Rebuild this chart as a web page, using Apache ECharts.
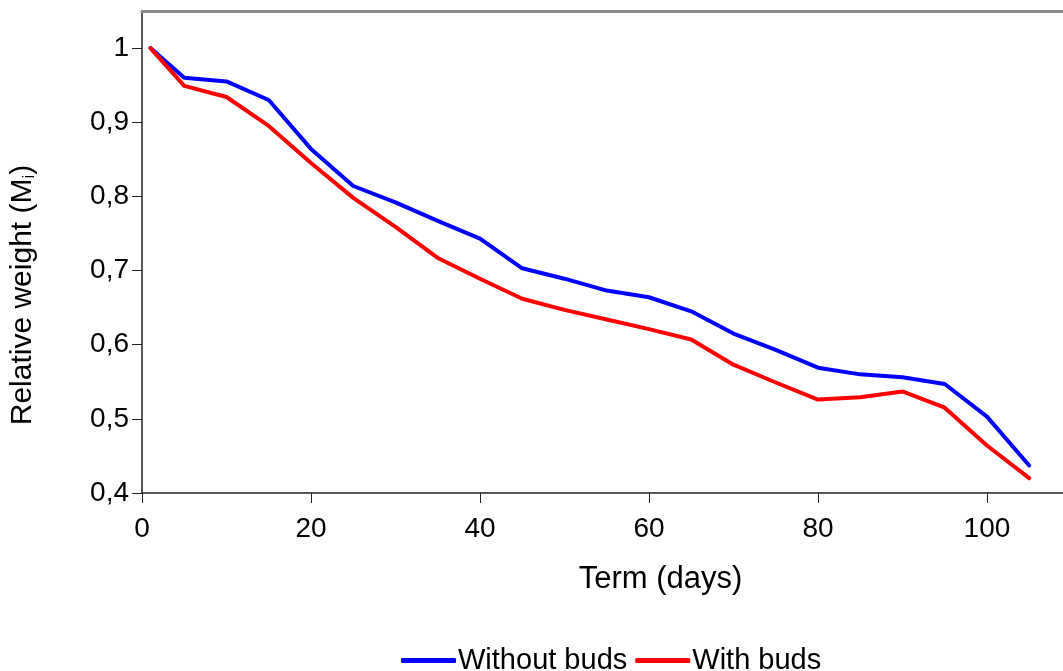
<!DOCTYPE html>
<html>
<head>
<meta charset="utf-8">
<script src="https://cdn.jsdelivr.net/npm/echarts@6/dist/echarts.min.js"></script>
<style>
html,body{margin:0;padding:0;background:#fff;}
#chart{width:1063px;height:671px;}
</style>
</head>
<body>
<div id="chart"></div>
<script>
const days = [1, 5, 10, 15, 20, 25, 30, 35, 40, 45, 50, 55, 60, 65, 70, 75, 80, 85, 90, 95, 100, 105];
const withoutBuds = [1.0, 0.960, 0.955, 0.930, 0.864, 0.814, 0.792, 0.767, 0.743, 0.703, 0.689, 0.673, 0.664, 0.645, 0.615, 0.593, 0.569, 0.560, 0.556, 0.547, 0.503, 0.437];
const withBuds = [1.0, 0.949, 0.934, 0.895, 0.845, 0.798, 0.759, 0.717, 0.689, 0.662, 0.647, 0.634, 0.621, 0.607, 0.573, 0.549, 0.526, 0.529, 0.537, 0.515, 0.464, 0.420];
const seriesNames = ['Without buds', 'With buds'];
const xTitle = 'Term (days)';

const font = 'Liberation Sans, Arial, sans-serif';
const chart = echarts.init(document.getElementById('chart'));
const pair = (xs, ys) => xs.map((x, i) => [x, ys[i]]);

chart.setOption({
  animation: false,
  textStyle: { fontFamily: font },
  grid: { left: 141, right: 0, top: 11, bottom: 178, containLabel: false },
  legend: {
    left: 396, top: 641,
    itemWidth: 55, itemHeight: 5, itemGap: 8,
    icon: 'roundRect',
    textStyle: { fontFamily: font, fontSize: 29, color: '#000', padding: [0, 0, 0, -3] },
    data: seriesNames
  },
  xAxis: [{
    type: 'value', min: 0, max: 109, interval: 20,
    name: xTitle, nameLocation: 'middle', nameGap: 71,
    nameTextStyle: { fontFamily: font, fontSize: 31, color: '#000', padding: [0, 0, 0, 116] },
    axisLine: { show: true, onZero: false, lineStyle: { color: '#222', width: 1.5 } },
    axisTick: { show: true, length: 10, lineStyle: { color: '#222', width: 1 } },
    axisLabel: { fontFamily: font, fontSize: 28, color: '#000', margin: 22, showMaxLabel: false },
    splitLine: { show: false }
  }, {
    type: 'value', min: 0, max: 109, position: 'top',
    axisLine: { show: true, lineStyle: { color: '#8a8a8a', width: 3 } },
    axisTick: { show: false }, axisLabel: { show: false }, splitLine: { show: false }
  }],
  yAxis: {
    type: 'value', min: 0.4, max: 1.05, interval: 0.1,
    name: '{a|Relative weight (M}{s|i}{a|)}', nameLocation: 'middle', nameGap: 104, nameRotate: 90,
    nameTextStyle: {
      padding: [0, 86, 0, 0],
      rich: {
        a: { fontFamily: font, fontSize: 30, color: '#000' },
        s: { fontFamily: font, fontSize: 17, color: '#000', verticalAlign: 'bottom', padding: [12, 0, 0, 0] }
      }
    },
    axisLine: { show: true, lineStyle: { color: '#222', width: 1.5 } },
    axisTick: { show: true, length: 10, lineStyle: { color: '#222', width: 1 } },
    axisLabel: {
      fontFamily: font, fontSize: 28, color: '#000', margin: 13, showMaxLabel: false,
      formatter: v => { const r = Math.round(v * 10) / 10; return r === 1 ? '1' : r.toFixed(1).replace('.', ','); }
    },
    splitLine: { show: false }
  },
  series: [{
    name: seriesNames[0], type: 'line', data: pair(days, withoutBuds),
    symbol: 'none', color: '#0000ff',
    lineStyle: { color: '#0000ff', width: 4, cap: 'round', join: 'round' }
  }, {
    name: seriesNames[1], type: 'line', data: pair(days, withBuds),
    symbol: 'none', color: '#ff0000',
    lineStyle: { color: '#ff0000', width: 4, cap: 'round', join: 'round' }
  }]
});
</script>
</body>
</html>
